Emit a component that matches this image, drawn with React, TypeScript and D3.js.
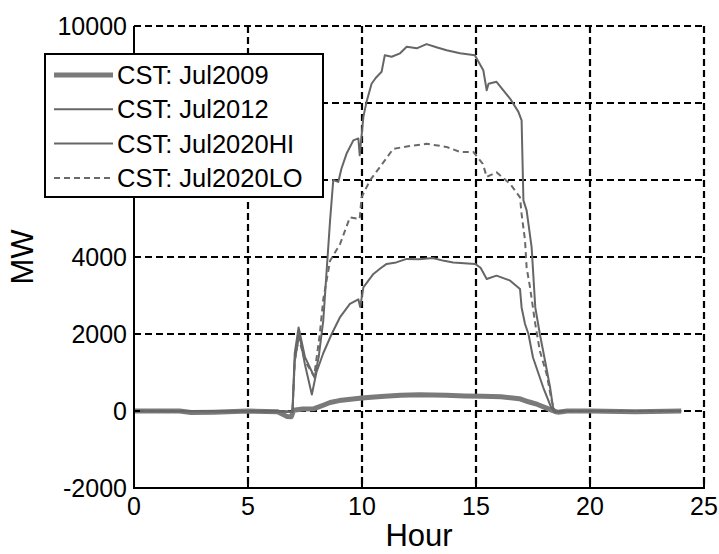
import React from "react";
import * as d3 from "d3";

const xTicks = [0, 5, 10, 15, 20, 25];
const yTicks = [-2000, 0, 2000, 4000, 6000, 8000, 10000];

const h2009 = [0, 1.2, 2, 2.5, 3.5, 5, 6.3, 6.7, 6.9, 7.0, 7.4, 7.9, 8.3, 8.6, 9.0, 9.4, 10.0, 10.4, 11.0, 11.7, 12.5, 13.7, 14.5, 15.3, 16.1, 16.9, 17.3, 17.7, 18.2, 18.5, 18.6, 19, 20, 22, 24];
const v2009 = [0, 0, 0, -40, -30, 0, -20, -140, -150, 20, 50, 60, 150, 220, 270, 300, 340, 360, 380, 410, 420, 410, 390, 380, 370, 320, 240, 170, 50, -20, -30, 0, 0, -20, 0];

const h2012 = [0, 5, 6.5, 6.95, 7.05, 7.25, 7.5, 7.8, 8.0, 8.3, 8.67, 9.03, 9.47, 9.84, 9.92, 10.06, 10.5, 10.8, 11.08, 11.5, 11.96, 12.5, 13.1, 13.6, 14.0, 14.96, 15.2, 15.47, 15.9, 16.2, 16.5, 16.93, 17.0, 17.15, 17.3, 17.5, 17.95, 18.3, 18.45, 19, 24];
const v2012 = [0, 0, 0, -20, 1300, 2000, 1200, 430, 1000, 1500, 2000, 2430, 2780, 2900, 2700, 3210, 3560, 3700, 3820, 3860, 3950, 3940, 3975, 3900, 3860, 3820, 3720, 3430, 3515, 3450, 3385, 3170, 2690, 2260, 2000, 1390, 610, 90, -30, 0, 0];

const h2020HI = [0, 6.95, 7.05, 7.22, 7.5, 7.92, 8.1, 8.3, 8.45, 8.6, 8.74, 8.96, 9.1, 9.32, 9.62, 9.84, 9.9, 10.06, 10.2, 10.42, 10.6, 10.86, 11.0, 11.3, 11.67, 11.96, 12.4, 12.83, 13.3, 13.71, 14.3, 14.95, 15.32, 15.47, 15.55, 15.9, 16.2, 16.5, 16.86, 17.0, 17.08, 17.22, 17.44, 17.6, 17.8, 18.03, 18.25, 18.38, 18.5, 24];
const v2020HI = [0, -20, 1500, 2170, 1400, 870, 1400, 2340, 3650, 4950, 6000, 5950, 6300, 6680, 7030, 7080, 6640, 7640, 8030, 8500, 8650, 8810, 9240, 9200, 9290, 9460, 9420, 9530, 9440, 9370, 9290, 9240, 8850, 8330, 8500, 8550, 8330, 8110, 7770, 7550, 5470, 5210, 4250, 2690, 2000, 1300, 610, 90, 0, 0];

const h2020LO = [0, 6.95, 7.05, 7.22, 7.5, 7.9, 8.15, 8.3, 8.6, 9.04, 9.47, 9.9, 9.98, 10.35, 10.79, 11.37, 11.96, 12.83, 13.7, 14.3, 14.88, 15.3, 15.47, 15.9, 16.5, 16.93, 17.0, 17.15, 17.22, 17.37, 17.6, 17.8, 18.1, 18.32, 18.45, 24];
const v2020LO = [0, -20, 1300, 1900, 1300, 900, 2000, 2900, 3900, 4340, 5030, 4990, 5550, 5990, 6340, 6810, 6870, 6940, 6860, 6730, 6730, 6420, 6080, 6200, 5900, 5550, 5120, 4430, 3730, 3210, 2260, 1560, 955, 260, 0, 0];

const seriesNames = ["CST: Jul2009", "CST: Jul2012", "CST: Jul2020HI", "CST: Jul2020LO"];

const W = 719, H = 554;
const L = 134, R = 704, T = 26, B = 488;
const FONT = "'Liberation Sans', Arial, sans-serif";

export default function App() {
  const x = d3.scaleLinear().domain([0, 25]).range([L, R]);
  const y = d3.scaleLinear().domain([-2000, 10000]).range([B, T]);
  const line = d3.line<[number, number]>().x((d) => x(d[0])).y((d) => y(d[1]));
  const mk = (hs: number[], vs: number[]) => line(hs.map((h, i) => [h, vs[i]] as [number, number])) || "";

  const series = [
    { name: seriesNames[0], d: mk(h2009, v2009), w: 5, c: "#7a7a7a", dash: "" },
    { name: seriesNames[1], d: mk(h2012, v2012), w: 2, c: "#666", dash: "" },
    { name: seriesNames[2], d: mk(h2020HI, v2020HI), w: 2, c: "#666", dash: "" },
    { name: seriesNames[3], d: mk(h2020LO, v2020LO), w: 2, c: "#6a6a6a", dash: "6,4" },
  ];

  return (
    <svg width={W} height={H} style={{ position: "absolute", left: 0, top: 0, background: "#fff" }} fontFamily={FONT}>
      <rect x={0} y={0} width={W} height={H} fill="#fff" />
      {/* grid */}
      {xTicks.filter((t) => t > 0).map((t) => (
        <line key={"gx" + t} x1={x(t)} x2={x(t)} y1={T} y2={B} stroke="#000" strokeWidth={2.2} strokeDasharray="7,4" />
      ))}
      {yTicks.filter((t) => t > -2000).map((t) => (
        <line key={"gy" + t} x1={L} x2={R} y1={y(t)} y2={y(t)} stroke="#000" strokeWidth={2.2} strokeDasharray="7,4" />
      ))}
      {/* series */}
      {series.map((s) => (
        <path key={s.name} d={s.d} fill="none" stroke={s.c} strokeWidth={s.w} strokeDasharray={s.dash || undefined} strokeLinejoin="round" />
      ))}
      {/* axes */}
      <line x1={L} x2={L} y1={T} y2={B + 1} stroke="#000" strokeWidth={2} />
      <line x1={L - 1} x2={R + 1} y1={B} y2={B} stroke="#000" strokeWidth={2} />
      {yTicks.map((t) => (
        <g key={"yt" + t}>
          <line x1={L} x2={L + 6} y1={y(t)} y2={y(t)} stroke="#000" strokeWidth={2} />
          <text x={L - 7} y={y(t) + 9} textAnchor="end" fontSize={25} fill="#000">{t}</text>
        </g>
      ))}
      {xTicks.map((t) => (
        <g key={"xt" + t}>
          <line x1={x(t)} x2={x(t)} y1={B} y2={B - 6} stroke="#000" strokeWidth={2} />
          <text x={x(t)} y={B + 27} textAnchor="middle" fontSize={25} fill="#000">{t}</text>
        </g>
      ))}
      <text x={(L + R) / 2} y={546} textAnchor="middle" fontSize={31} fill="#000">Hour</text>
      <text transform={`translate(33,257) rotate(-90)`} textAnchor="middle" fontSize={31} fill="#000">MW</text>
      {/* legend */}
      <rect x={45} y={54} width={278} height={143} fill="#fff" stroke="#000" strokeWidth={2} />
      {series.map((s, i) => {
        const cy = 75 + i * 34.3;
        return (
          <g key={"lg" + i}>
            <line x1={54} x2={113} y1={cy} y2={cy} stroke={s.c} strokeWidth={s.w} strokeDasharray={s.dash || undefined} />
            <text x={117} y={cy + 9} fontSize={25.5} fill="#000">{s.name}</text>
          </g>
        );
      })}
    </svg>
  );
}
